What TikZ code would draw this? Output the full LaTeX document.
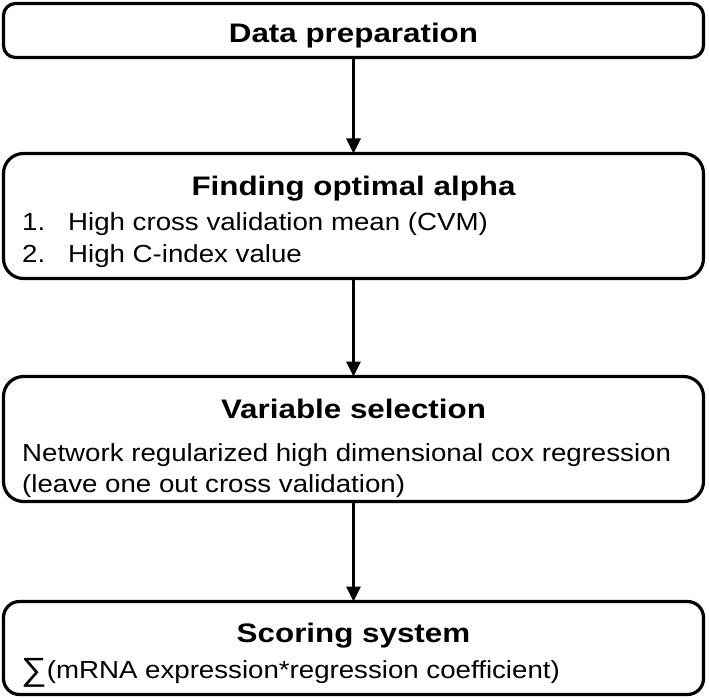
\documentclass[tikz,border=0pt]{standalone}
\usepackage{fontspec}
\setmainfont{Liberation Sans}[FakeStretch=1.12]
\newfontfamily\ttlfont{Liberation Sans}[FakeStretch=1.17]
\usetikzlibrary{arrows.meta}
\begin{document}
\begin{tikzpicture}[x=1pt,y=-1pt,
  box/.style={draw=black, line width=3.2pt, rectangle, inner sep=0pt, outer sep=0pt, minimum width=700pt, fill=white},
  ttl/.style={anchor=base, inner sep=0pt, font=\ttlfont\bfseries\fontsize{26.8}{30}\selectfont},
  txt/.style={anchor=base west, inner sep=0pt, font=\fontsize{24.7}{29}\selectfont},
  arr/.style={line width=3.2pt, -{Triangle[length=15pt,width=14pt]}}]
\useasboundingbox (0,0) rectangle (709,698);
\fill[white] (0,0) rectangle (709,698);
\node[box, rounded corners=12pt, minimum height=54pt] (b1) at (353.5,30.5) {};
\node[box, rounded corners=20pt, minimum height=125pt] (b2) at (353.5,216) {};
\node[box, rounded corners=20pt, minimum height=125pt] (b3) at (353.5,439) {};
\node[box, rounded corners=16pt, minimum height=93pt] (b4) at (353.5,648) {};
\draw[arr] (b1.south) -- (b2.north);
\draw[arr] (b2.south) -- (b3.north);
\draw[arr] (b3.south) -- (b4.north);
\node[ttl] (t1) at (353.5,42.7) {Data preparation};
\node[ttl] (t2) at (353.5,195) {Finding optimal alpha};
\node[txt] (n1) at (22,230) {1.};
\node[txt] (i1) at (68,230) {High cross validation mean (CVM)};
\node[txt] (n2) at (22,262) {2.};
\node[txt] (i2) at (68,262) {High C-index value};
\node[ttl] (t3) at (353.5,418) {Variable selection};
\node[txt] (l1) at (22,461) {Network regularized high dimensional cox regression};
\node[txt] (l2) at (22,492) {(leave one out cross validation)};
\node[ttl] (t4) at (353.5,642) {Scoring system};
\node[txt] (s1) at (21,678) {\raisebox{-2.5pt}{\scalebox{1.3}{∑}}(mRNA expression*regression coefficient)};
\end{tikzpicture}
\end{document}
